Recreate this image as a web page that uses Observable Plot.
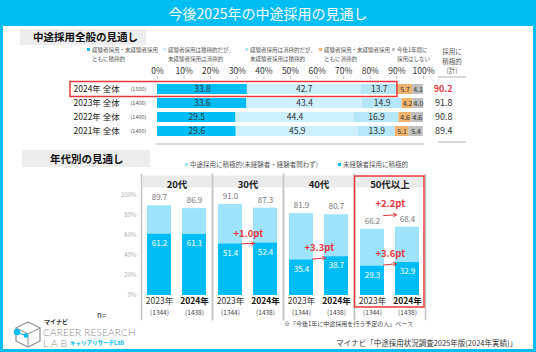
<!DOCTYPE html>
<html><head><meta charset="utf-8">
<script src="https://cdn.jsdelivr.net/npm/d3@7"></script>
<script src="https://cdn.jsdelivr.net/npm/@observablehq/plot@0.6"></script>
<style>
body{margin:0;}
#root{position:relative;width:536px;height:352px;background:#00BDF2;overflow:hidden;font-family:"Noto Sans CJK JP","Noto Sans",sans-serif;}
#inner{position:absolute;left:3px;top:26px;width:530px;height:323px;background:#fff;}
#title{position:absolute;left:0;top:0;width:536px;height:26px;line-height:26px;text-align:center;color:#fff;font-size:14px;}
.sec{position:absolute;background:#EDEDED;font-weight:bold;color:#111;white-space:nowrap;}
.lg{position:absolute;font-size:5.5px;color:#555;line-height:8.6px;white-space:nowrap;}
.sq{display:inline-block;width:3px;height:3px;margin-right:2px;vertical-align:1px;}
.abs{position:absolute;white-space:nowrap;}
.hl{position:absolute;height:2px;background:#d9d9d9;}
#topChart,#bottomChart{position:absolute;left:0;}
</style></head>
<body>
<div id="root">
  <div id="title">今後2025年の中途採用の見通し</div>
  <div id="inner"></div>
  <div class="sec" style="left:20px;top:29px;width:126px;height:16px;line-height:16px;font-size:10.5px;text-indent:13px;">中途採用全般の見通し</div>
  <div id="legendTop"></div>
  <div class="abs" style="left:437px;top:47px;width:30px;text-align:center;font-size:6.5px;line-height:9.6px;color:#555;">採用に<br>積極的<br>(計)</div>
  <div class="hl" style="left:438px;top:76px;width:28px;"></div>
  <div class="hl" style="left:438px;top:141px;width:28px;"></div>
  <div id="topChart" style="top:62px;"></div>
  <div class="sec" style="left:22px;top:150px;width:128px;height:17px;line-height:17px;font-size:10.5px;text-indent:28px;">年代別の見通し</div>
  <div id="legendBottom"></div>
  <div id="bottomChart" style="top:170px;"></div>
  <div class="abs" style="left:97px;top:309px;font-size:8px;color:#333;">n=</div>
  <div class="abs" style="right:123px;top:319px;font-size:6px;color:#444;">※「今後1年に中途採用を行う予定の人」ベース</div>
  <svg class="abs" style="left:12px;top:320px;" width="32" height="29" viewBox="0 0 32 29">
    <path d="M16 2 L28 8 L28 21 L16 27 L4 21 L4 8 Z" fill="none" stroke="#9a9a9a" stroke-width="1.3"/>
    <path d="M4 8 L16 14 L28 8 M16 14 L16 27" fill="none" stroke="#9a9a9a" stroke-width="1.1"/>
    <circle cx="5" cy="12" r="3.2" fill="#00BDF2"/>
    <path d="M7 13 L12 15" stroke="#00BDF2" stroke-width="1.2"/>
    <rect x="12" y="13.5" width="4" height="4" fill="#00BDF2"/>
  </svg>
  <div class="abs" style="left:44px;top:318px;font-size:6px;line-height:8px;font-weight:bold;color:#333;">マイナビ</div>
  <div class="abs" style="left:43px;top:327px;font-size:10px;line-height:10px;color:#8c8c8c;font-family:'Lato','DejaVu Sans',sans-serif;font-weight:300;letter-spacing:0.2px;">CAREER RESEARCH</div>
  <div class="abs" style="left:43px;top:337.5px;font-size:10px;line-height:10px;color:#8c8c8c;font-family:'Lato','DejaVu Sans',sans-serif;font-weight:300;letter-spacing:3px;">LAB</div>
  <div class="abs" style="left:70px;top:339px;font-size:5.5px;line-height:8px;font-weight:bold;color:#00BDF2;">キャリアリサーチLab</div>
  <div class="abs" style="right:19px;top:337px;font-size:7.5px;color:#333;">マイナビ「中途採用状況調査2025年版(2024年実績)」</div>
</div>
<script>
const FONT = '"Noto Sans CJK JP","Noto Sans",sans-serif';
const RED = "#E8383D";

// ---- Top chart data ----
const rowLabels = ["2024年 全体", "2023年 全体", "2022年 全体", "2021年 全体"];
const rowN = [1500, 1400, 1400, 1400];
const segNames = [
  "経験者採用・未経験者採用ともに積極的",
  "経験者採用は積極的だが、未経験者採用は消極的",
  "経験者採用は消極的だが、未経験者採用は積極的",
  "経験者採用・未経験者採用ともに消極的",
  "今後1年間に採用はしない"
];
const segLegendLines = [
  ["経験者採用・未経験者採用", "ともに積極的"],
  ["経験者採用は積極的だが、", "未経験者採用は消極的"],
  ["経験者採用は消極的だが、", "未経験者採用は積極的"],
  ["経験者採用・未経験者採用", "ともに消極的"],
  ["今後1年間に", "採用はしない"]
];
const segColors = ["#00BEF5", "#CDF0FC", "#B6E7F8", "#EEB36C", "#BFBFBF"];
const seg1 = [33.8, 33.6, 29.5, 29.6];
const seg2 = [42.7, 43.4, 44.4, 45.9];
const seg3 = [13.7, 14.9, 16.9, 13.9];
const seg4 = [5.7, 4.2, 4.6, 5.1];
const seg5 = [4.1, 4.0, 4.6, 5.4];
const totalPositive = [90.2, 91.8, 90.8, 89.4];
const xTicks = [0, 10, 20, 30, 40, 50, 60, 70, 80, 90, 100];

// ---- Bottom chart data ----
const ages = ["20代", "30代", "40代", "50代以上"];
const surveyYears = ["2023年", "2024年"];
const surveyN = [1344, 1438];
const total2023 = [89.7, 91.0, 81.9, 66.2];
const total2024 = [86.9, 87.3, 80.7, 68.4];
const inexp2023 = [61.2, 51.4, 35.4, 29.3];
const inexp2024 = [61.1, 52.4, 38.7, 32.9];
const bottomLegend = ["中途採用に積極的(未経験者・経験者問わず)", "未経験者採用に積極的"];
const bottomColors = ["#9DE4FB", "#00BEF5"];
const yTicks = [0, 20, 40, 60, 80, 100];

// ---- Legends (HTML) ----
const legendX = [87, 163, 245, 319, 392];
document.getElementById("legendTop").innerHTML = segNames.map((s, i) =>
  `<div class="lg" style="left:${legendX[i]}px;top:46px;"><span class="sq" style="background:${segColors[i]}"></span>${segLegendLines[i][0]}<br><span style="padding-left:5px">${segLegendLines[i][1]}</span></div>`
).join("");
const bLegendX = [185, 338];
document.getElementById("legendBottom").innerHTML = bottomLegend.map((s, i) =>
  `<div class="lg" style="left:${bLegendX[i]}px;top:159px;font-size:6.5px;line-height:10px;"><span class="sq" style="background:${bottomColors[i]}"></span>${s}</div>`
).join("");

// ---- Top chart ----
const segVals = [seg1, seg2, seg3, seg4, seg5];
const topData = rowLabels.flatMap((row, i) => segVals.map((s, j) => ({row, seg: segNames[j], k: j, value: s[i]})));
const rowData = rowLabels.map((row, i) => ({row, n: rowN[i], total: totalPositive[i]}));

const topChart = Plot.plot({
  width: 536, height: 86,
  marginTop: 16, marginBottom: 6, marginLeft: 157, marginRight: 113,
  style: {fontFamily: FONT, background: "transparent", overflow: "visible"},
  x: {domain: [0, 100], axis: null},
  y: {domain: rowLabels, axis: null, padding: 0.31},
  color: {domain: segNames, range: segColors},
  marks: [
    Plot.frame({anchor: "bottom", stroke: "#d9d9d9", strokeWidth: 2, insetBottom: -1.5}),
    Plot.barX(topData, {x: "value", y: "row", fill: "seg"}),
    Plot.text(topData, Plot.stackX({x: "value", y: "row", z: "seg",
      text: d => d.k < 3 ? d.value.toFixed(1) : null, fill: "#333", fontSize: 8.5})),
    Plot.text(topData, Plot.stackX({x: "value", y: "row", z: "seg",
      text: d => d.k >= 3 ? d.value.toFixed(1) : null, fill: "#333", fontSize: 7})),
    Plot.axisX({anchor: "top", ticks: xTicks, tickSize: 3, tickPadding: 2,
      tickFormat: d => d + "%", stroke: "#c8c8c8", fill: "#333", fontSize: 8.5}),
    Plot.text(rowData, {y: "row", text: "row", frameAnchor: "left", dx: -84, textAnchor: "start", fontSize: 8.5, fill: "#222"}),
    Plot.text(rowData, {y: "row", text: d => `(${d.n})`, frameAnchor: "left", dx: -27, textAnchor: "start", fontSize: 5.5, fill: "#555"}),
    Plot.text(rowData.slice(0, 1), {y: "row", text: d => d.total.toFixed(1), frameAnchor: "right", dx: 29, fill: RED, fontWeight: "bold", fontSize: 9}),
    Plot.text(rowData.slice(1), {y: "row", text: d => d.total.toFixed(1), frameAnchor: "right", dx: 29, fill: "#333", fontSize: 9}),
    Plot.barX(rowData.slice(0, 1), {x1: 0, x2: "total", y: "row", fill: "none", stroke: RED, strokeWidth: 1.5,
      insetLeft: -87, insetTop: -2.5, insetBottom: -2.5})
  ]
});
document.getElementById("topChart").appendChild(topChart);

// ---- Bottom chart ----
const bottomData = ages.flatMap((age, i) => surveyYears.map((year, j) => ({
  age, year, n: surveyN[j],
  total: (j ? total2024 : total2023)[i],
  inexp: (j ? inexp2024 : inexp2023)[i]
})));
const diffs = ages.flatMap((age, i) => [
  {age, kind: "inexp", v1: inexp2023[i], v2: inexp2024[i]},
  {age, kind: "total", v1: total2023[i], v2: total2024[i]}
]).filter(d => d.v2 > d.v1).map(d => ({
  ...d, x1: surveyYears[0], x2: surveyYears[1],
  mid: (d.v1 + d.v2) / 2, label: "+" + (d.v2 - d.v1).toFixed(1) + "pt"
}));
const diffInexp = diffs.filter(d => d.kind === "inexp");
const diffTotal = diffs.filter(d => d.kind === "total");

const bottomChart = Plot.plot({
  width: 536, height: 160,
  marginTop: 25, marginBottom: 35, marginLeft: 141, marginRight: 111,
  style: {fontFamily: FONT, background: "transparent", overflow: "visible"},
  fx: {domain: ages, padding: 0, axis: null},
  x: {domain: surveyYears, paddingInner: 0.32, paddingOuter: 0.16, axis: null},
  y: {domain: [0, 100], axis: null},
  marks: [
    Plot.frame({fill: "#EBEBEB", stroke: null, insetTop: -20, insetBottom: 108, insetLeft: 1, insetRight: 1}),
    Plot.text(ages, {fx: d => d, text: d => d, frameAnchor: "top", dy: -14, fontWeight: "bold", fontSize: 9.5, fill: "#222"}),
    Plot.frame({anchor: "left", stroke: "#c4c4c4", strokeWidth: 1.5, insetTop: -21, insetBottom: -24}),
    Plot.frame({anchor: "right", stroke: "#c4c4c4", strokeWidth: 1.5, insetTop: -21, insetBottom: -24}),
    Plot.axisY({ticks: yTicks, tickSize: 0, tickPadding: 5, tickFormat: d => d + "%", fontSize: 6, fill: "#aaa"}),
    Plot.barY(bottomData, {fx: "age", x: "year", y: "total", fill: bottomColors[0]}),
    Plot.barY(bottomData, {fx: "age", x: "year", y: "inexp", fill: bottomColors[1]}),
    Plot.text(bottomData, {fx: "age", x: "year", y: "total", text: d => d.total.toFixed(1), dy: -8, fontSize: 8, fill: "#777"}),
    Plot.text(bottomData, {fx: "age", x: "year", y: "inexp", text: d => d.inexp.toFixed(1), dy: 9, fontSize: 8, fill: "#fff"}),
    Plot.text(bottomData.filter(d => d.year === surveyYears[0]), {fx: "age", x: "year", text: "year", frameAnchor: "bottom", dy: 8, fontSize: 8.5, fill: "#333"}),
    Plot.text(bottomData.filter(d => d.year === surveyYears[1]), {fx: "age", x: "year", text: "year", frameAnchor: "bottom", dy: 8, fontSize: 8.5, fontWeight: "bold", fill: "#111"}),
    Plot.text(bottomData, {fx: "age", x: "year", text: d => `(${d.n})`, frameAnchor: "bottom", dy: 19, fontSize: 6.5, fill: "#444"}),
    Plot.arrow(diffInexp, {fx: "age", x1: "x1", x2: "x2", y1: "v1", y2: "v2", stroke: RED, strokeWidth: 1, headLength: 5, insetStart: 11, insetEnd: 11}),
    Plot.arrow(diffTotal, {fx: "age", x1: "x1", x2: "x2", y1: "v1", y2: "v2", stroke: RED, strokeWidth: 1, headLength: 5, insetStart: 11, insetEnd: 11, dy: -13}),
    Plot.text(diffInexp, {fx: "age", x: "x1", y: "mid", text: "label", dx: 17.75, dy: -10, fill: RED, fontWeight: "bold", fontSize: 9.5}),
    Plot.text(diffTotal, {fx: "age", x: "x1", y: "mid", text: "label", dx: 17.75, dy: -24, fill: RED, fontWeight: "bold", fontSize: 9.5}),
    Plot.rect(ages.filter(a => a === "50代以上"), {fx: d => d, fill: "none", stroke: RED, strokeWidth: 1.5,
      insetTop: -19, insetBottom: -12, insetLeft: 0.5, insetRight: 1})
  ]
});
document.getElementById("bottomChart").appendChild(bottomChart);
</script>
</body></html>
